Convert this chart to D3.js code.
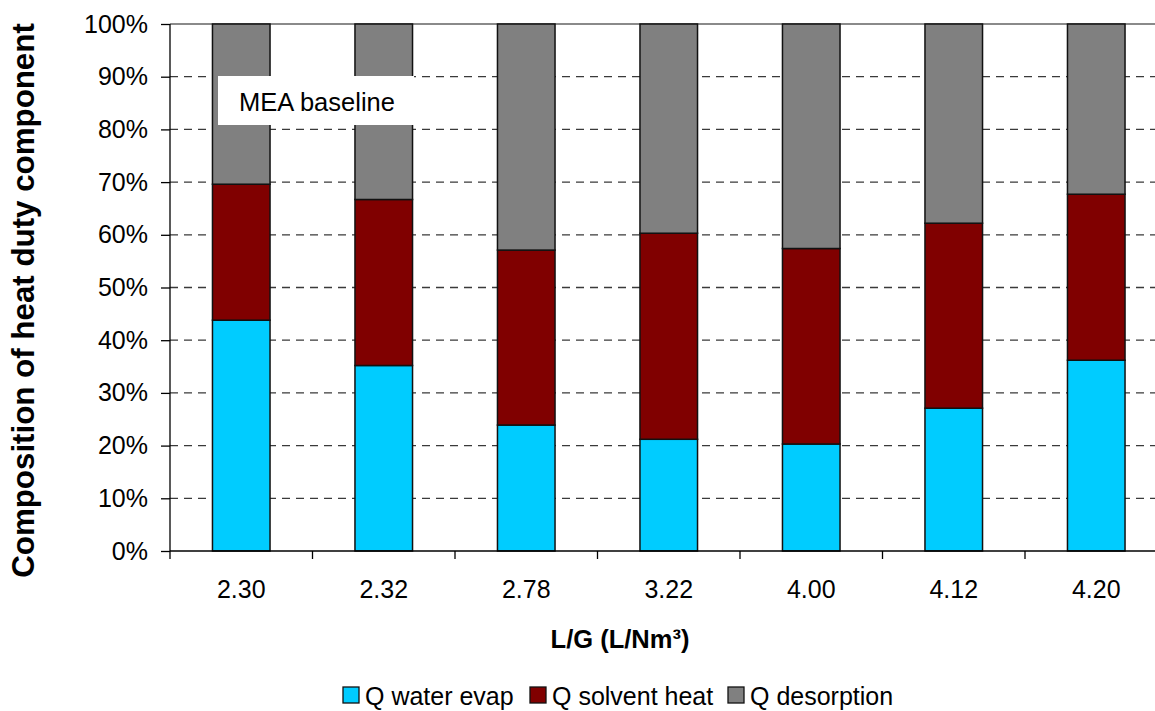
<!DOCTYPE html>
<html>
<head>
<meta charset="utf-8">
<script src="https://cdn.jsdelivr.net/npm/d3@7/dist/d3.min.js"></script>
<style>
  html, body { margin: 0; padding: 0; background: #fff; overflow: hidden; }
  svg { display: block; font-family: Arial, "Liberation Sans", sans-serif; }
</style>
</head>
<body>
<svg id="chart" width="1155" height="711"></svg>
<script>
// L/G ratios on the x axis
const categories = ["2.30", "2.32", "2.78", "3.22", "4.00", "4.12", "4.20"];
// Share of each heat duty component (%), stacked bottom to top
const waterEvap    = [43.8, 35.2, 23.9, 21.2, 20.3, 27.1, 36.2];
const solventHeat  = [25.8, 31.5, 33.2, 39.1, 37.1, 35.1, 31.5];
const desorption   = [30.4, 33.3, 42.9, 39.7, 42.6, 37.8, 32.3];
const seriesNames  = ["Q water evap", "Q solvent heat", "Q desorption"];
const seriesColors = ["#00CCFF", "#800000", "#808080"];
const yTicks = [0, 10, 20, 30, 40, 50, 60, 70, 80, 90, 100];

const svg = d3.select("#chart");
const plotLeft = 170, plotRight = 1167.5, plotTop = 24, plotBottom = 551;

const x = d3.scaleBand().domain(categories).range([plotLeft, plotRight]).padding(0);
const y = d3.scaleLinear().domain([0, 100]).range([plotBottom, plotTop]);

// gridlines
svg.append("g").selectAll("line")
  .data(yTicks.filter(d => d > 0))
  .join("line")
  .attr("x1", plotLeft).attr("x2", plotRight)
  .attr("y1", d => y(d)).attr("y2", d => y(d))
  .attr("stroke", d => d === 100 ? "#8a8a8a" : "#3a3a3a")
  .attr("stroke-width", d => d === 100 ? 2 : 1.3)
  .attr("stroke-dasharray", d => d === 100 ? null : "8,6");

// stacked data
const rows = categories.map((c, i) => ({
  cat: c, "Q water evap": waterEvap[i], "Q solvent heat": solventHeat[i], "Q desorption": desorption[i]
}));
const stack = d3.stack().keys(seriesNames)(rows);

const barW = x.bandwidth() * 0.404;
svg.append("g").selectAll("g")
  .data(stack)
  .join("g")
  .attr("fill", (d, i) => seriesColors[i])
  .selectAll("rect")
  .data(d => d)
  .join("rect")
  .attr("x", d => x(d.data.cat) + (x.bandwidth() - barW) / 2)
  .attr("width", barW)
  .attr("y", d => y(Math.min(d[1], 100)))
  .attr("height", d => y(d[0]) - y(Math.min(d[1], 100)))
  .attr("stroke", "#111")
  .attr("stroke-width", 1.5);

// y axis
const yAxis = d3.axisLeft(y).tickValues(yTicks).tickFormat(d => d + "%").tickSize(9).tickPadding(13);
const gy = svg.append("g").attr("transform", `translate(${plotLeft},0)`).call(yAxis);
gy.select(".domain").attr("stroke", "#000").attr("stroke-width", 1.3).attr("d", `M0,${plotTop}V${plotBottom}`);
gy.selectAll(".tick line").attr("stroke", "#000").attr("stroke-width", 1.3);
gy.selectAll(".tick text").attr("font-size", 25).attr("fill", "#000")
  .attr("font-family", "Arial, 'Liberation Sans', sans-serif");

// x axis with ticks at category boundaries
const gx = svg.append("g").attr("transform", `translate(0,${plotBottom})`);
gx.append("line").attr("x1", plotLeft).attr("x2", plotRight).attr("stroke", "#000").attr("stroke-width", 1.3);
const bounds = categories.map(c => x(c)).concat([plotRight]);
gx.selectAll("line.tk").data(bounds).join("line")
  .attr("class", "tk")
  .attr("x1", d => d).attr("x2", d => d).attr("y1", 0).attr("y2", 8)
  .attr("stroke", "#000").attr("stroke-width", 1.3);
gx.selectAll("text").data(categories).join("text")
  .attr("x", d => x(d) + x.bandwidth() / 2)
  .attr("y", 47)
  .attr("text-anchor", "middle")
  .attr("font-size", 25)
  .text(d => d);

// annotation box
svg.append("rect").attr("x", 218).attr("y", 76).attr("width", 196).attr("height", 49).attr("fill", "#fff");
svg.append("text").attr("x", 239).attr("y", 111).attr("font-size", 25.5).text("MEA baseline");

// axis titles
svg.append("text")
  .attr("x", 620).attr("y", 648)
  .attr("text-anchor", "middle").attr("font-size", 25.5).attr("font-weight", "bold")
  .text("L/G (L/Nm³)");
svg.append("text")
  .attr("transform", `translate(34,${(plotTop + plotBottom) / 2 + 13}) rotate(-90)`)
  .attr("text-anchor", "middle").attr("font-size", 31.3).attr("font-weight", "bold")
  .text("Composition of heat duty component");

// legend
const legendX = [343, 530, 728];
const lg = svg.append("g").selectAll("g").data(seriesNames).join("g")
  .attr("transform", (d, i) => `translate(${legendX[i]},687)`);
lg.append("rect").attr("width", 16).attr("height", 16)
  .attr("fill", (d, i) => seriesColors[i]).attr("stroke", "#111").attr("stroke-width", 1.3);
lg.append("text").attr("x", 22).attr("y", 18).attr("font-size", 25).text(d => d);
</script>
</body>
</html>
